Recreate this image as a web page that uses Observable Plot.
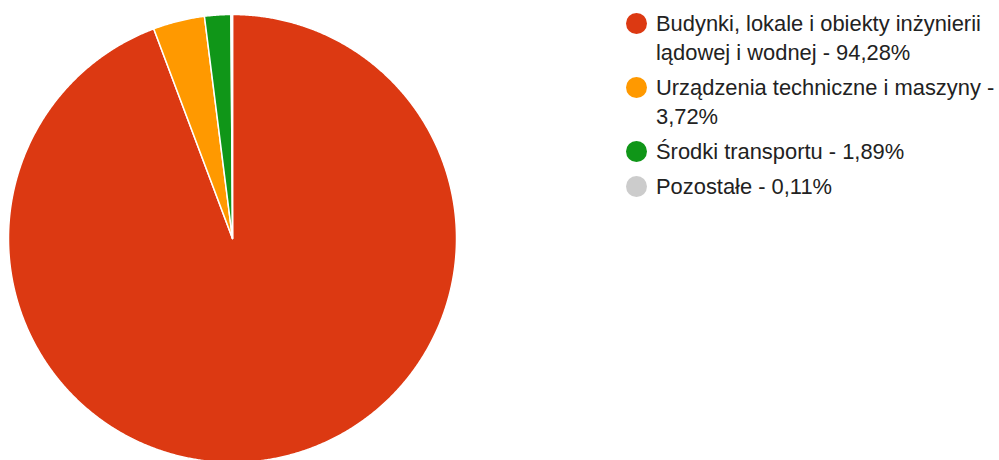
<!DOCTYPE html>
<html>
<head>
<meta charset="utf-8">
<script src="https://cdn.jsdelivr.net/npm/d3@7"></script>
<script src="https://cdn.jsdelivr.net/npm/@observablehq/plot@0.6"></script>
<style>
  html, body { margin: 0; padding: 0; background: #fff; }
  #wrap { position: relative; width: 999px; height: 460px; overflow: hidden; }
  #legend { position: absolute; left: 626px; top: 9px; font-family: "Liberation Sans", Arial, sans-serif; font-size: 21.9px; color: #222; }
  .item { position: relative; padding-left: 30px; line-height: 29px; margin-bottom: 6px; white-space: nowrap; }
  .sw { position: absolute; left: 0; top: 4px; width: 21px; height: 21px; border-radius: 50%; }
</style>
</head>
<body>
<div id="wrap"><div id="legend"></div></div>
<script>
const labels = ["Budynki, lokale i obiekty inżynierii lądowej i wodnej", "Urządzenia techniczne i maszyny", "Środki transportu", "Pozostałe"];
const values = [94.28, 3.72, 1.89, 0.11];
const valueText = ["94,28%", "3,72%", "1,89%", "0,11%"];
const colors = ["#dc3912", "#ff9900", "#109618", "#cccccc"];
const legendLines = [
  ["Budynki, lokale i obiekty inżynierii", "lądowej i wodnej - 94,28%"],
  ["Urządzenia techniczne i maszyny -", "3,72%"],
  ["Środki transportu - 1,89%"],
  ["Pozostałe - 0,11%"]
];

const arcs = d3.pie().sort(null).value(d => d.value)(labels.map((label, i) => ({label, value: values[i]})));
const points = [];
for (const a of arcs) {
  points.push({label: a.data.label, x: 0, y: 0});
  const n = Math.max(2, Math.ceil((a.endAngle - a.startAngle) / 0.005));
  for (let k = 0; k <= n; k++) {
    const t = a.startAngle + (a.endAngle - a.startAngle) * k / n;
    points.push({label: a.data.label, x: Math.sin(t), y: Math.cos(t)});
  }
}

const cx = 232, cy = 238, r = 224;
const chart = Plot.plot({
  width: 999,
  height: 460,
  margin: 0,
  x: {domain: [-1, 1], range: [cx - r, cx + r], axis: null},
  y: {domain: [-1, 1], range: [cy + r, cy - r], axis: null},
  color: {domain: labels, range: colors},
  marks: [
    Plot.line(points, {x: "x", y: "y", z: "label", fill: "label", stroke: "white", strokeWidth: 1.5, curve: "linear-closed"})
  ]
});
document.getElementById("wrap").prepend(chart);

const legend = document.getElementById("legend");
labels.forEach((l, i) => {
  const it = document.createElement("div");
  it.className = "item";
  const sw = document.createElement("span");
  sw.className = "sw";
  sw.style.background = colors[i];
  it.appendChild(sw);
  legendLines[i].forEach((line, j) => {
    if (j) it.appendChild(document.createElement("br"));
    it.appendChild(document.createTextNode(line));
  });
  legend.appendChild(it);
});
</script>
</body>
</html>
